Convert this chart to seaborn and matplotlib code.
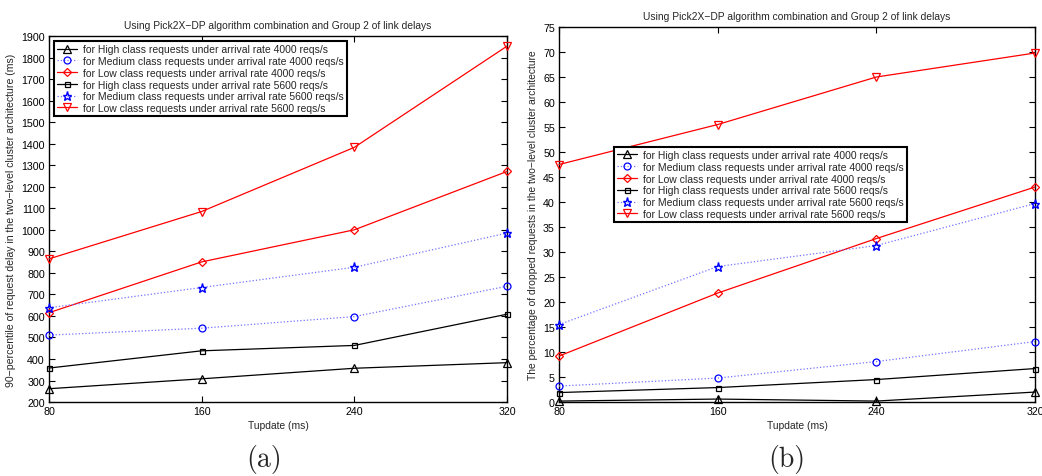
import matplotlib
matplotlib.use("Agg")
import matplotlib.pyplot as plt
import seaborn as sns
import pandas as pd

tupdate = [80, 160, 240, 320]

labels = [
    "for High class requests under arrival rate 4000 reqs/s",
    "for Medium class requests under arrival rate 4000 reqs/s",
    "for Low class requests under arrival rate 4000 reqs/s",
    "for High class requests under arrival rate 5600 reqs/s",
    "for Medium class requests under arrival rate 5600 reqs/s",
    "for Low class requests under arrival rate 5600 reqs/s",
]

# (a) 90-percentile of request delay (ms)
delay_high_4000 = [262, 308, 357, 383]
delay_med_4000 = [511, 543, 597, 738]
delay_low_4000 = [615, 851, 1000, 1271]
delay_high_5600 = [358, 438, 463, 608]
delay_med_5600 = [638, 732, 826, 985]
delay_low_5600 = [865, 1085, 1383, 1853]

# (b) percentage of dropped requests
drop_high_4000 = [0.2, 0.6, 0.2, 2.0]
drop_med_4000 = [3.2, 4.8, 8.1, 12.1]
drop_low_4000 = [9.2, 21.8, 32.7, 43.0]
drop_high_5600 = [1.9, 2.9, 4.5, 6.7]
drop_med_5600 = [15.5, 27.1, 31.3, 39.7]
drop_low_5600 = [47.5, 55.5, 65.0, 69.8]

styles = [
    dict(color="black", linestyle="-", marker="^"),
    dict(color="blue", linestyle=":", marker="o"),
    dict(color="red", linestyle="-", marker="D"),
    dict(color="black", linestyle="-", marker="s"),
    dict(color="blue", linestyle=":", marker="*"),
    dict(color="red", linestyle="-", marker="v"),
]
msizes = {"^": 5.2, "o": 5.0, "D": 4.2, "s": 3.6, "*": 6.5, "v": 5.2}

sns.set_style("ticks")
plt.rcParams["font.family"] = ["Liberation Sans", "DejaVu Sans"]

fig = plt.figure(figsize=(10.42, 4.77), dpi=100)
axA = fig.add_axes([0.047, 0.155, 0.4396, 0.7674])
axB = fig.add_axes([0.5365, 0.155, 0.4568, 0.7863])

title = "Using Pick2X\u2212DP algorithm combination and Group 2 of link delays"


def draw(ax, series):
    for lab, vals, st in zip(labels, series, styles):
        df = pd.DataFrame({"x": tupdate, "y": vals})
        mk = st["marker"]
        sns.lineplot(data=df, x="x", y="y", ax=ax, label=lab,
                     color=st["color"], linestyle=st["linestyle"],
                     marker=mk, markersize=msizes[mk],
                     markerfacecolor="none", markeredgecolor=st["color"],
                     markeredgewidth=1.0 if mk == "*" else 0.9,
                     linewidth=0.9, clip_on=False, zorder=3)
    ax.set_xlim(80, 320)
    ax.set_xticks(tupdate)
    ax.set_xlabel("Tupdate (ms)", fontsize=7.4, labelpad=3)
    ax.tick_params(direction="in", top=True, right=True, length=4,
                   width=0.8, labelsize=7.7, pad=3, colors="black")
    for sp in ax.spines.values():
        sp.set_visible(True)
        sp.set_linewidth(1.0)
        sp.set_color("black")
    ax.set_title(title, fontsize=7.4, pad=6)
    for ln in ax.get_lines():
        if ln.get_linestyle() == ":":
            ln.set_color((0.45, 0.45, 1.0))
            ln.set_markeredgecolor("blue")


draw(axA, [delay_high_4000, delay_med_4000, delay_low_4000,
           delay_high_5600, delay_med_5600, delay_low_5600])
axA.set_ylim(200, 1900)
axA.set_yticks(range(200, 1901, 100))
axA.set_ylabel("90\u2212percentile of request delay in the two\u2212level cluster architecture (ms)",
               fontsize=7.6, labelpad=4)

draw(axB, [drop_high_4000, drop_med_4000, drop_low_4000,
           drop_high_5600, drop_med_5600, drop_low_5600])
axB.set_ylim(0, 75)
axB.set_yticks(range(0, 76, 5))
axB.set_ylabel("The percentage of dropped requests in the two\u2212level cluster architecture",
               fontsize=7.4, labelpad=4)

leg_kw = dict(fontsize=7.5, labelspacing=0.17, handlelength=1.9, handletextpad=0.6,
              borderpad=0.3, borderaxespad=0, fancybox=False, framealpha=1,
              edgecolor="black")
legA = axA.legend(loc="upper left", bbox_to_anchor=(0.011, 0.986), **leg_kw)
legB = axB.legend(loc="upper left", bbox_to_anchor=(0.1155, 0.68), **leg_kw)
for lg in (legA, legB):
    lg.get_frame().set_linewidth(1.5)
    lg.set_zorder(5)

fig.text(0.253, 0.036, "(a)", fontsize=20, family="cmr10", ha="center", va="center")
fig.text(0.755, 0.036, "(b)", fontsize=20, family="cmr10", ha="center", va="center")

fig.savefig("out.png", dpi=100)
